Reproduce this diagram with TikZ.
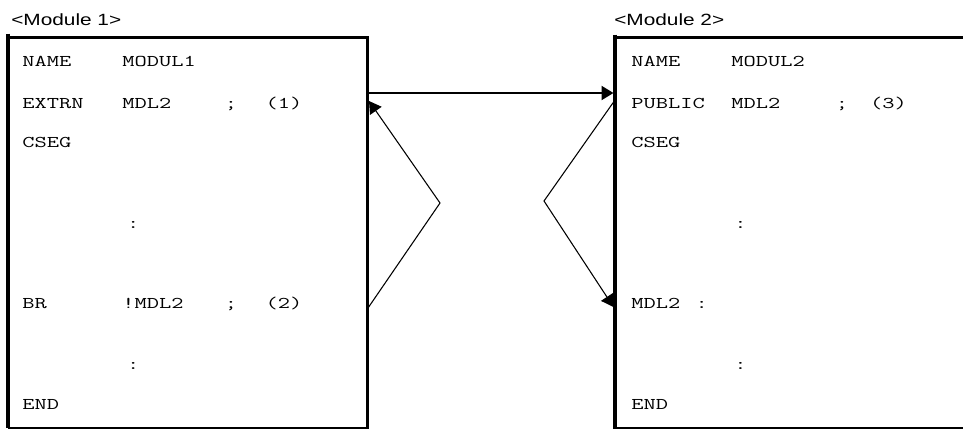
\documentclass[tikz,border=0pt]{standalone}
\usepackage{fontspec}
\setmainfont{Liberation Sans}[FakeStretch=1.28]
\setmonofont{Latin Modern Mono}[FakeStretch=1.45]
\usetikzlibrary{arrows.meta}

\tikzset{
    code/.style={anchor=base west, inner sep=0pt, font=\ttfamily\fontsize{12.3}{14}\selectfont},
    codec/.style={code, anchor=base},
    title/.style={anchor=base west, inner sep=0pt, font=\fontsize{12.2}{14}\selectfont},
    frame/.style={line width=2.4pt},
    link/.style={line width=0.8pt, -{Triangle[length=9pt,width=10.5pt]}}
}

\begin{document}
\begin{tikzpicture}[x=0.75pt, y=-0.75pt]
    \useasboundingbox (0,0) rectangle (963,429);

    \node[title] (title1) at (11,25) {<Module 1>};
    \node[title] (title2) at (614,25) {<Module 2>};


    \coordinate (extrn) at (369,93);   \coordinate (public) at (613.5,93);
    \coordinate (brout) at (368,308);  \coordinate (bend1) at (440,203); \coordinate (brin) at (369,101);
    \coordinate (pubout) at (615,100); \coordinate (bend2) at (544,201); \coordinate (lblin) at (613.5,307);

    \draw[link, line width=1.6pt] (extrn) -- (public);
    \draw[link] (brout) -- (bend1) -- (brin);
    \draw[link] (pubout) -- (bend2) -- (lblin);


    \draw[frame] (8,33.5) -- (8,428); \draw[frame] (8,37.5) -- (367.5,37.5) -- (367.5,428.5);
    \draw[line width=1.5pt] (8,427.8) -- (367.5,427.8);
    \draw[frame] (615,34.5) -- (615,428.5); \draw[frame] (615,37.5) -- (963,37.5);
    \draw[line width=1.5pt] (615,427.8) -- (963,427.8);


    \node[code] (n1a) at (22,66.7) {NAME};    \node[code] (n1b) at (122,66.7) {MODUL1};
    \node[code] (n2a) at (22,108.3) {EXTRN};  \node[code] (n2b) at (122,108.3) {MDL2};
    \node[codec] (n2c) at (231,108.3) {;};    \node[codec] (n2d) at (284,108.3) {(1)};
    \node[code] (n3a) at (22,147.3) {CSEG};
    \node[codec] (n4a) at (133.3,228) {:};
    \node[code] (n5a) at (22,308.3) {BR};     \node[code] (n5b) at (122,308.3) {!MDL2};
    \node[codec] (n5c) at (231,308.3) {;};    \node[codec] (n5d) at (284,308.3) {(2)};
    \node[codec] (n6a) at (133.3,369) {:};
    \node[code] (n7a) at (22,409) {END};


    \node[code] (m1a) at (631,66.7) {NAME};   \node[code] (m1b) at (731,66.7) {MODUL2};
    \node[code] (m2a) at (631,108.3) {PUBLIC}; \node[code] (m2b) at (731,108.3) {MDL2};
    \node[codec] (m2c) at (842,108.3) {;};    \node[codec] (m2d) at (888.5,108.3) {(3)};
    \node[code] (m3a) at (631,147.3) {CSEG};
    \node[codec] (m4a) at (740.5,228) {:};
    \node[code] (m5a) at (631,308.3) {MDL2};  \node[codec] (m5b) at (701.7,308.3) {:};
    \node[codec] (m6a) at (740.5,369) {:};
    \node[code] (m7a) at (631,409) {END};
\end{tikzpicture}
\end{document}
